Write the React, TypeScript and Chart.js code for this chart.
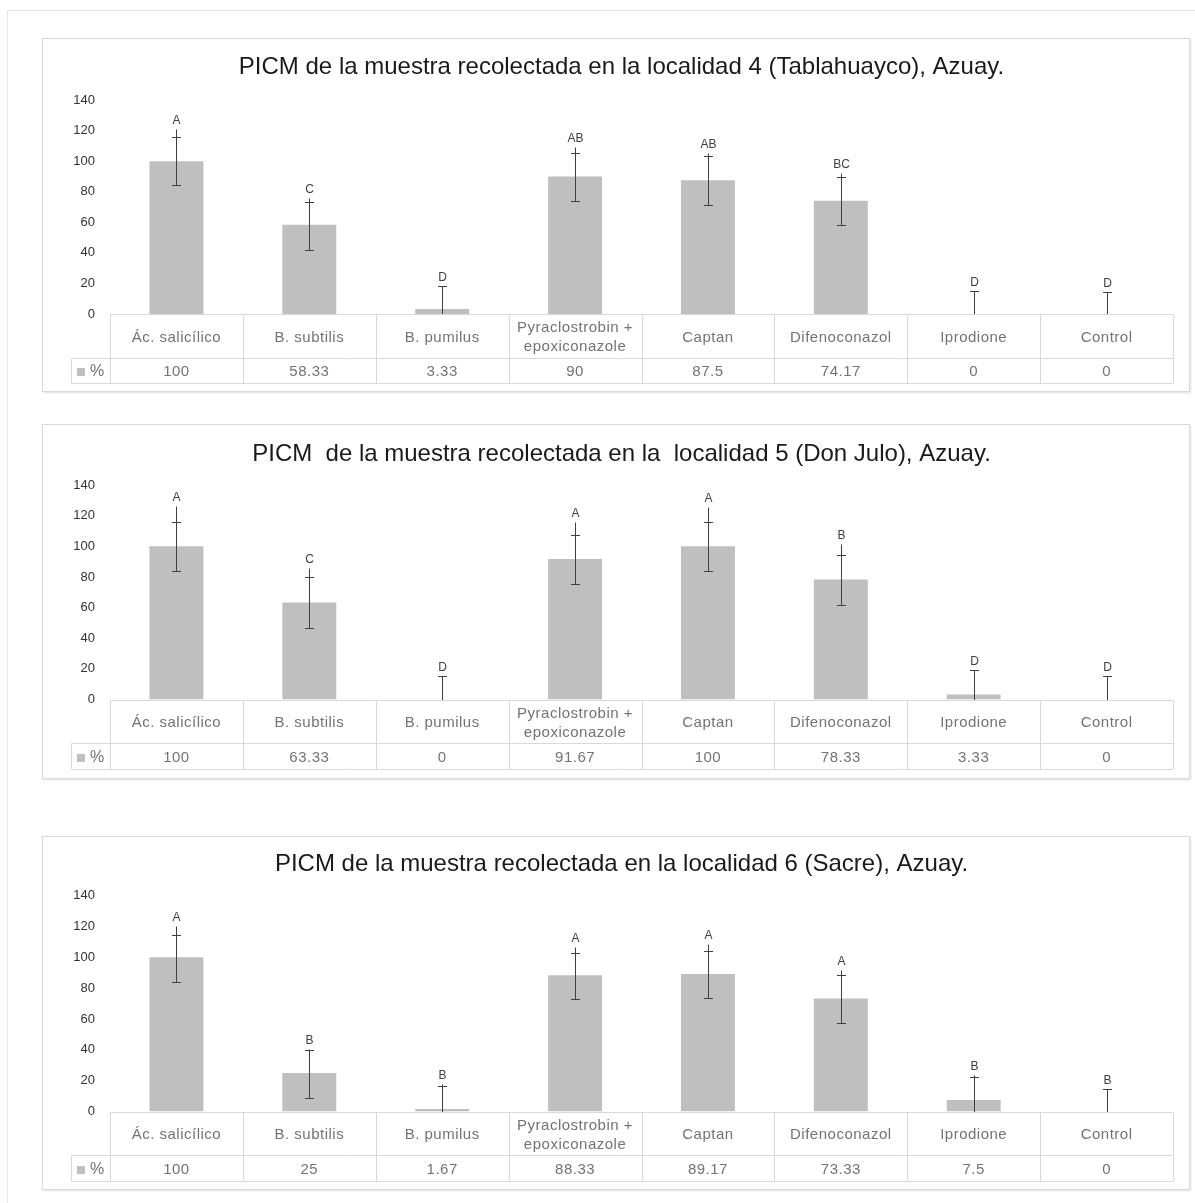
import { useEffect, useRef } from "react";
import { Chart, registerables } from "chart.js";

Chart.register(...registerables);

// Treatments shown along the category axis / in the data table
const categories: (string | string[])[] = [
  "Ác. salicílico",
  "B. subtilis",
  "B. pumilus",
  ["Pyraclostrobin +", "epoxiconazole"],
  "Captan",
  "Difenoconazol",
  "Iprodione",
  "Control",
];

// Localidad 4 (Tablahuayco)
const loc4Values = [100, 58.33, 3.33, 90, 87.5, 74.17, 0, 0];
const loc4Low = [84.2, 42, 0, 74.2, 71.6, 58.2, 0, 0];
const loc4Cap = [115.8, 73.3, 18.2, 105.5, 103.3, 89.5, 14.9, 14.7];
const loc4Top = [121.2, 75.7, 18.2, 109.4, 105.5, 92.3, 14.9, 14.7];
const loc4Letters = ["A", "C", "D", "AB", "AB", "BC", "D", "D"];

// Localidad 5 (Don Julo)
const loc5Values = [100, 63.33, 0, 91.67, 100, 78.33, 3.33, 0];
const loc5Low = [83.6, 46.5, 0, 75.3, 83.6, 61.8, 0, 0];
const loc5Cap = [115.7, 79.7, 15.3, 107.4, 115.7, 94.1, 19, 15.3];
const loc5Top = [126.6, 85.8, 15.3, 115.7, 125.8, 101.5, 19, 15.3];
const loc5Letters = ["A", "C", "D", "A", "A", "B", "D", "D"];

// Localidad 6 (Sacre)
const loc6Values = [100, 25, 1.67, 88.33, 89.17, 73.33, 7.5, 0];
const loc6Low = [83.7, 8.9, 0, 72.8, 73.7, 57.6, 0, 0];
const loc6Cap = [114.8, 40.2, 16.5, 103, 104.1, 88.3, 22.4, 14.8];
const loc6Top = [120.2, 40.8, 17.6, 106.7, 108.7, 92, 23.5, 14.8];
const loc6Letters = ["A", "B", "B", "A", "A", "A", "B", "B"];

const seriesLabel = "%";

type PanelData = {
  title: string;
  values: number[];
  low: number[];
  cap: number[];
  top: number[];
  letters: string[];
};

const panels: PanelData[] = [
  {
    title: "PICM de la muestra recolectada en la localidad 4 (Tablahuayco), Azuay.",
    values: loc4Values,
    low: loc4Low,
    cap: loc4Cap,
    top: loc4Top,
    letters: loc4Letters,
  },
  {
    title: "PICM  de la muestra recolectada en la  localidad 5 (Don Julo), Azuay.",
    values: loc5Values,
    low: loc5Low,
    cap: loc5Cap,
    top: loc5Top,
    letters: loc5Letters,
  },
  {
    title: "PICM de la muestra recolectada en la localidad 6 (Sacre), Azuay.",
    values: loc6Values,
    low: loc6Low,
    cap: loc6Cap,
    top: loc6Top,
    letters: loc6Letters,
  },
];

// Box geometry of each panel on the page
const frames = [
  { top: 38, height: 354, titlePadTop: 14, titlePadBottom: 18.2, bottomPad: 77 },
  { top: 424, height: 355, titlePadTop: 14.5, titlePadBottom: 16.7, bottomPad: 78.5 },
  { top: 836, height: 354, titlePadTop: 13, titlePadBottom: 16.9, bottomPad: 77.5 },
];

const FONT = "'Liberation Sans', Arial, sans-serif";
const PANEL_LEFT = 42;
const PANEL_WIDTH = 1148;
const BAR_COLOR = "#bfbfbf";
const WHISKER_COLOR = "#404040";
const TABLE_LINE = "#d9d9d9";
const TABLE_TEXT = "#737373";

function whiskerPlugin(p: PanelData) {
  return {
    id: "whiskers",
    afterDatasetsDraw(chart: any) {
      const { ctx } = chart;
      const xs = chart.scales.x;
      const ys = chart.scales.y;
      ctx.save();
      ctx.strokeStyle = WHISKER_COLOR;
      ctx.lineWidth = 1;
      ctx.fillStyle = WHISKER_COLOR;
      ctx.font = `12px ${FONT}`;
      ctx.textAlign = "center";
      ctx.textBaseline = "alphabetic";
      const half = 4.5;
      p.values.forEach((_v, i) => {
        const cx = Math.round(xs.getPixelForValue(i)) + 0.5;
        const yLow = Math.round(ys.getPixelForValue(Math.max(p.low[i], 0))) + 0.5;
        const yCap = Math.round(ys.getPixelForValue(p.cap[i])) + 0.5;
        const yTop = Math.round(ys.getPixelForValue(p.top[i])) + 0.5;
        ctx.beginPath();
        ctx.moveTo(cx, yLow);
        ctx.lineTo(cx, yTop);
        if (p.low[i] > 0) {
          ctx.moveTo(cx - half, yLow);
          ctx.lineTo(cx + half, yLow);
        }
        ctx.moveTo(cx - half, yCap);
        ctx.lineTo(cx + half, yCap);
        ctx.stroke();
        ctx.fillText(p.letters[i], cx, yTop - 6);
      });
      ctx.restore();
    },
  };
}

function tablePlugin(p: PanelData) {
  return {
    id: "dataTable",
    afterDraw(chart: any) {
      const { ctx, chartArea } = chart;
      const { left, right, bottom } = chartArea;
      const n = categories.length;
      const w = (right - left) / n;
      const rowMid = Math.round(bottom + 43.5) + 0.5;
      const rowEnd = Math.round(bottom + 69) + 0.5;
      const top = Math.round(bottom) + 0.5;
      const legendLeft = 28.5;
      ctx.save();
      ctx.strokeStyle = TABLE_LINE;
      ctx.lineWidth = 1;
      ctx.beginPath();
      ctx.moveTo(left, top);
      ctx.lineTo(right, top);
      ctx.moveTo(legendLeft, rowMid);
      ctx.lineTo(right, rowMid);
      ctx.moveTo(legendLeft, rowEnd);
      ctx.lineTo(right, rowEnd);
      for (let i = 0; i <= n; i++) {
        const x = Math.round(left + i * w) + 0.5;
        ctx.moveTo(x, top);
        ctx.lineTo(x, rowEnd);
      }
      ctx.moveTo(legendLeft, rowMid);
      ctx.lineTo(legendLeft, rowEnd);
      ctx.stroke();

      ctx.fillStyle = TABLE_TEXT;
      ctx.font = `15px ${FONT}`;
      ctx.textAlign = "center";
      ctx.textBaseline = "middle";
      try {
        (ctx as any).letterSpacing = "0.5px";
      } catch (e) {
        /* not supported */
      }
      categories.forEach((c, i) => {
        const cx = left + (i + 0.5) * w;
        if (Array.isArray(c)) {
          ctx.fillText(c[0], cx, bottom + 14);
          ctx.fillText(c[1], cx, bottom + 33);
        } else {
          ctx.fillText(c, cx, bottom + 23.5);
        }
        ctx.fillText(String(p.values[i]), cx, bottom + 58);
      });
      // series key in the left column
      ctx.fillStyle = BAR_COLOR;
      ctx.fillRect(34, Math.round(bottom + 54), 8, 8);
      ctx.fillStyle = TABLE_TEXT;
      ctx.font = `16px ${FONT}`;
      ctx.textAlign = "left";
      ctx.fillText(seriesLabel, 47, bottom + 58);
      ctx.restore();
    },
  };
}

function PanelChart({ data, frame }: { data: PanelData; frame: (typeof frames)[number] }) {
  const ref = useRef<HTMLCanvasElement>(null);
  useEffect(() => {
    const canvas = ref.current;
    if (!canvas) return;
    const chart = new Chart(canvas, {
      type: "bar",
      data: {
        labels: categories as any,
        datasets: [
          {
            label: seriesLabel,
            data: data.values,
            backgroundColor: BAR_COLOR,
            borderWidth: 0,
            barPercentage: 0.406,
            categoryPercentage: 1,
          },
        ],
      },
      options: {
        responsive: false,
        animation: false,
        events: [],
        layout: {
          padding: { left: 27, right: 16, top: 0, bottom: frame.bottomPad },
        },
        plugins: {
          legend: { display: false },
          tooltip: { enabled: false },
          title: {
            display: true,
            text: data.title,
            color: "#1a1a1a",
            font: { family: FONT, size: 24, weight: "normal" as any, lineHeight: 1.2 },
            padding: { top: frame.titlePadTop, bottom: frame.titlePadBottom },
          },
        },
        scales: {
          x: { display: false },
          y: {
            min: 0,
            max: 140,
            ticks: {
              stepSize: 20,
              padding: 15,
              color: "#333333",
              font: { family: FONT, size: 13 },
            },
            grid: { display: false, drawTicks: false },
            border: { display: false },
            afterFit: (s: any) => {
              s.width = 40;
            },
          },
        },
      },
      plugins: [whiskerPlugin(data), tablePlugin(data)],
    });
    return () => chart.destroy();
  }, [data, frame]);

  return (
    <div
      style={{
        position: "absolute",
        left: PANEL_LEFT,
        top: frame.top,
        width: PANEL_WIDTH,
        height: frame.height,
        border: "1px solid #d9d9d9",
        boxSizing: "border-box",
        boxShadow: "1px 1px 2px rgba(0,0,0,0.12)",
        background: "#fff",
      }}
    >
      <canvas
        ref={ref}
        width={PANEL_WIDTH - 2}
        height={frame.height - 2}
        style={{ display: "block" }}
      />
    </div>
  );
}

export default function App() {
  return (
    <div
      style={{
        position: "absolute",
        left: 0,
        top: 0,
        width: 1195,
        height: 1203,
        background: "#fff",
        overflow: "hidden",
      }}
    >
      <div
        style={{
          position: "absolute",
          left: 7,
          top: 10,
          width: 1200,
          height: 1200,
          borderLeft: "1px solid #e6e6e6",
          borderTop: "1px solid #e6e6e6",
        }}
      />
      {panels.map((p, i) => (
        <PanelChart key={i} data={p} frame={frames[i]} />
      ))}
    </div>
  );
}
